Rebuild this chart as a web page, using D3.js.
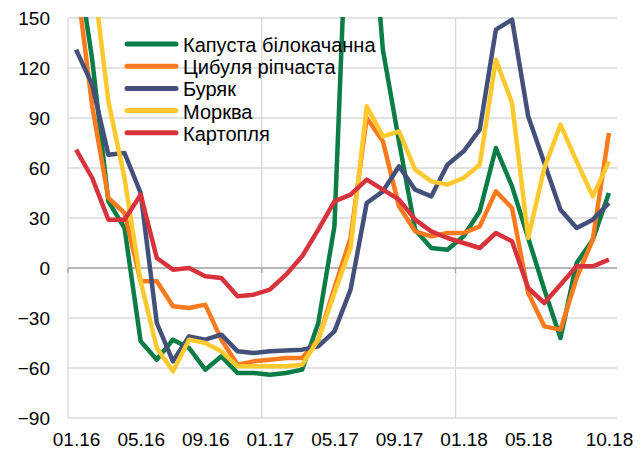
<!DOCTYPE html>
<html>
<head>
<meta charset="utf-8">
<script src="https://cdn.jsdelivr.net/npm/d3@7"></script>
<style>
  body { margin: 0; background: #fff; }
  text { font-family: "Liberation Sans", Arial, sans-serif; fill: #000; }
</style>
</head>
<body>
<svg id="chart"></svg>
<script>
// Monthly categories 01.16 .. 10.18
const months = [
  '01.16', '02.16', '03.16', '04.16', '05.16', '06.16', '07.16', '08.16', '09.16', '10.16', '11.16', '12.16',
  '01.17', '02.17', '03.17', '04.17', '05.17', '06.17', '07.17', '08.17', '09.17', '10.17', '11.17', '12.17',
  '01.18', '02.18', '03.18', '04.18', '05.18', '06.18', '07.18', '08.18', '09.18', '10.18'
];

const xTickLabels = ['01.16', '05.16', '09.16', '01.17', '05.17', '09.17', '01.18', '05.18', '10.18'];
const yTicks = [-90, -60, -30, 0, 30, 60, 90, 120, 150];
const yearStarts = ['01.16', '01.17', '01.18'];

const seriesNames = ['Капуста білокачанна', 'Цибуля ріпчаста', 'Буряк', 'Морква', 'Картопля'];

const cabbage = [190, 125, 40, 24, -44, -55, -43, -48, -61, -53, -63, -63, -64, -63, -61, -33, 25, 270,
  250, 131, 76, 23, 12, 11, 19, 34, 72, 49, 18, -13, -42, 3, 17, 45];
const onion = [175, 97, 42, 33, -8, -8, -23, -24, -22, -43, -58, -56, -55, -54, -54, -43, -12, 18,
  90, 76, 37, 22, 19, 21, 21, 25, 46, 36, -15, -35, -37, -6, 17, 81];
const beet = [131, 110, 68, 69, 45, -33, -56, -41, -43, -40, -50, -51, -50, -49.5, -49, -47, -38, -13,
  39, 46, 61, 47, 43, 62, 70, 83, 143, 149, 91, 63, 35, 24, 29, 39];
const carrot = [250, 180, 100, 54, -8, -48, -62, -43, -45, -50, -59, -59, -59, -59, -58, -43, -15, 12,
  97, 79, 82, 59, 52, 50, 54, 62, 125, 99, 18, 60, 86, 64, 43, 64];
const potato = [71, 54, 29, 29, 44, 6, -1, 0, -5, -6, -17, -16, -13, -4, 7, 23, 40, 44,
  53, 47, 41, 29, 22, 18, 15, 12, 21, 16, -12, -21, -10, 1, 1, 5];

const seriesValues = [cabbage, onion, beet, carrot, potato];
const colors = ['#0a7c45', '#fb7a1d', '#43507a', '#fec92f', '#d6333c'];

const width = 643;
const height = 450;
const plot = { left: 68, right: 617, top: 18, bottom: 418 };

const svg = d3.select('#chart')
  .attr('width', width)
  .attr('height', height);

// Category axis: points sit in the middle of each month slot
const x = d3.scalePoint()
  .domain(months)
  .range([plot.left, plot.right])
  .padding(0.5);

const y = d3.scaleLinear()
  .domain([-90, 150])
  .range([plot.bottom, plot.top]);

const step = x.step();

// Horizontal gridlines
svg.append('g')
  .selectAll('line')
  .data(yTicks)
  .enter()
  .append('line')
  .attr('x1', plot.left)
  .attr('x2', plot.right)
  .attr('y1', d => y(d))
  .attr('y2', d => y(d))
  .attr('stroke', '#d9d9d9')
  .attr('stroke-width', 1.3);

// Vertical gridlines at year boundaries
svg.append('g')
  .selectAll('line')
  .data(yearStarts)
  .enter()
  .append('line')
  .attr('x1', d => x(d) - step / 2)
  .attr('x2', d => x(d) - step / 2)
  .attr('y1', plot.top)
  .attr('y2', plot.bottom)
  .attr('stroke', '#d9d9d9')
  .attr('stroke-width', 1.3);

// Zero line with small tick marks
svg.append('line')
  .attr('x1', plot.left)
  .attr('x2', plot.right)
  .attr('y1', y(0))
  .attr('y2', y(0))
  .attr('stroke', '#a6a6a6')
  .attr('stroke-width', 1.3);

svg.append('g')
  .selectAll('line')
  .data(yearStarts)
  .enter()
  .append('line')
  .attr('x1', d => x(d) - step / 2)
  .attr('x2', d => x(d) - step / 2)
  .attr('y1', y(0))
  .attr('y2', y(0) + 5)
  .attr('stroke', '#a6a6a6')
  .attr('stroke-width', 1.3);

// Y axis labels
const yAxis = svg.append('g')
  .attr('transform', `translate(${plot.left},0)`)
  .call(d3.axisLeft(y).tickValues(yTicks).tickSize(0).tickPadding(18));
yAxis.select('.domain').remove();
yAxis.selectAll('text')
  .style('font-size', '19px')
  .style('font-family', '"Liberation Sans", Arial, sans-serif')
  .attr('fill', '#000');

// X axis labels
const xAxis = svg.append('g')
  .attr('transform', `translate(0,${plot.bottom})`)
  .call(d3.axisBottom(x).tickValues(xTickLabels).tickSize(0).tickPadding(15));
xAxis.select('.domain').remove();
xAxis.selectAll('text')
  .style('font-size', '19px')
  .style('font-family', '"Liberation Sans", Arial, sans-serif')
  .attr('fill', '#000');

// Clip the series to the plot area
svg.append('clipPath')
  .attr('id', 'plot-clip')
  .append('rect')
  .attr('x', 0)
  .attr('y', plot.top - 1)
  .attr('width', width)
  .attr('height', plot.bottom - plot.top + 10);

const line = d3.line()
  .x((d, i) => x(months[i]))
  .y(d => y(d));

svg.append('g')
  .attr('clip-path', 'url(#plot-clip)')
  .selectAll('path')
  .data(seriesValues)
  .enter()
  .append('path')
  .attr('d', d => line(d))
  .attr('fill', 'none')
  .attr('stroke', (d, i) => colors[i])
  .attr('stroke-width', 4.5)
  .attr('stroke-linejoin', 'round');

// Legend
const legend = svg.append('g')
  .selectAll('g')
  .data(seriesNames)
  .enter()
  .append('g')
  .attr('transform', (d, i) => `translate(125,${44 + i * 22.2})`);

legend.append('line')
  .attr('x1', 2)
  .attr('x2', 51)
  .attr('stroke', (d, i) => colors[i])
  .attr('stroke-width', 5)
  .attr('stroke-linecap', 'round');

legend.append('text')
  .attr('x', 58)
  .attr('y', 1)
  .attr('dy', '0.35em')
  .style('font-size', '20px')
  .text(d => d);
</script>
</body>
</html>
